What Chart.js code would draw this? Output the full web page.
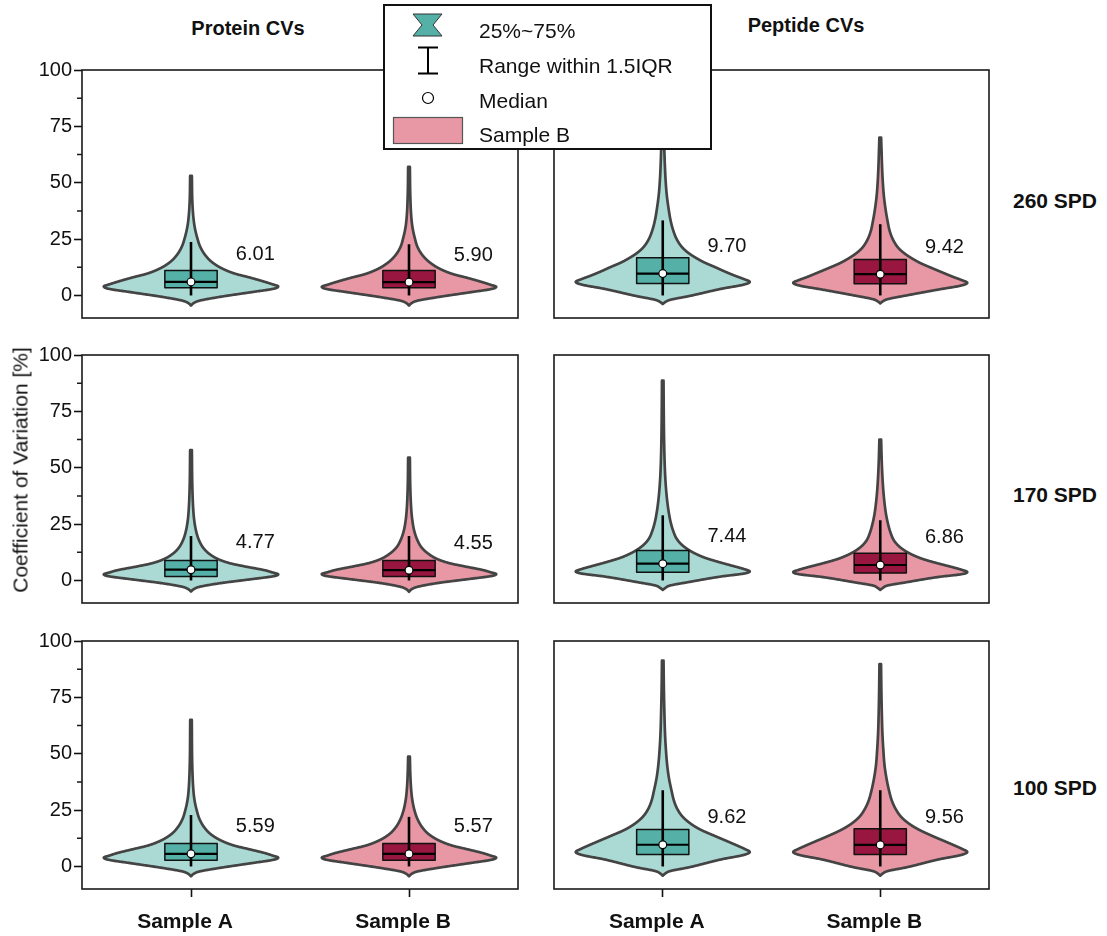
<!DOCTYPE html>
<html>
<head>
<meta charset="utf-8">
<title>Coefficient of Variation – Protein and Peptide CVs</title>
<script src="https://cdn.jsdelivr.net/npm/chart.js@4.4.1/dist/chart.umd.min.js"></script>
<style>
  html, body { margin: 0; padding: 0; background: #fff; }
  #page { position: relative; width: 1107px; height: 936px; overflow: hidden;
          font-family: 'Liberation Sans', Arial, Helvetica, sans-serif; color: #111; }
  canvas.panel { position: absolute; z-index: 1; }
  .txt { position: absolute; white-space: nowrap; line-height: 1; z-index: 6; }
  .bold { font-weight: bold; }
  .center { transform: translate(-50%, -50%); }
  .left { transform: translateY(-50%); }
  #legend { position: absolute; left: 383px; top: 4px; width: 329px; height: 146px;
            box-sizing: border-box; border: 2px solid #111; background: #fff; z-index: 4; }
  #legendIcons { position: absolute; left: 383px; top: 4px; z-index: 5; }
</style>
</head>
<body>
<div id="page"></div>
<script>
// ---- values -------------------------------------------------------------
const categories = ['Sample A', 'Sample B'];
const columnTitles = ['Protein CVs', 'Peptide CVs'];
const rowLabels = ['260 SPD', '170 SPD', '100 SPD'];
const yTicks = [0, 25, 50, 75, 100];
const yMinorTicks = [12.5, 37.5, 62.5, 87.5];
const legendLabels = ['25%~75%', 'Range within 1.5IQR', 'Median', 'Sample B'];
const yAxisTitle = 'Coefficient of Variation [%]';

// rows: 260 SPD, 170 SPD, 100 SPD; each pair is [Sample A, Sample B]
const proteinMedian = [[6.01, 5.90], [4.77, 4.55], [5.59, 5.57]];
const proteinQ1 = [[3.4, 3.4], [1.8, 1.8], [2.8, 2.8]];
const proteinQ3 = [[11.1, 11.1], [8.9, 8.9], [10.2, 10.2]];
const proteinWhiskerLow = [[0, 0], [0, 0], [0, 0]];
const proteinWhiskerHigh = [[23.7, 22.7], [19.7, 19.7], [22.8, 22.0]];

const peptideMedian = [[9.70, 9.42], [7.44, 6.86], [9.62, 9.56]];
const peptideQ1 = [[5.3, 5.2], [3.6, 3.3], [5.3, 5.3]];
const peptideQ3 = [[16.7, 15.9], [13.3, 12.1], [16.4, 16.7]];
const peptideWhiskerLow = [[0, 0], [0, 0], [0, 0]];
const peptideWhiskerHigh = [[33.3, 31.6], [28.9, 26.7], [33.8, 33.8]];

// violin outlines: [CV %, relative half-width]
const proteinDensity260A = [[-4.5,0],[-3.4,0.03],[-2.4,0.09],[-0.7,0.32],[1.5,0.70],[3.0,0.95],[4.0,1.0],[5.0,0.93],[6.0,0.85],[8.1,0.66],[9.6,0.51],[11.9,0.36],[14.8,0.24],[17.8,0.165],[21.5,0.107],[25.9,0.069],[30.4,0.042],[34.8,0.027],[42,0.015],[53,0.010]];
const proteinDensity260B = [[-4.5,0],[-3.4,0.03],[-2.4,0.09],[-0.8,0.32],[1.4,0.70],[2.9,0.95],[3.8,1.0],[4.8,0.93],[5.8,0.85],[7.9,0.66],[9.4,0.51],[11.7,0.36],[14.6,0.24],[17.6,0.16],[21.3,0.10],[25.7,0.065],[30.2,0.04],[35,0.026],[44,0.015],[57,0.010]];
const proteinDensity170A = [[-4.9,0],[-3.9,0.03],[-2.9,0.09],[-1.3,0.32],[0.6,0.70],[1.9,0.95],[2.7,1.0],[3.6,0.93],[4.5,0.85],[6.2,0.62],[7.5,0.46],[9.3,0.32],[11.8,0.21],[14.5,0.14],[18,0.09],[22,0.058],[27,0.036],[32,0.025],[42,0.015],[57.8,0.010]];
const proteinDensity170B = [[-5.0,0],[-3.9,0.03],[-2.9,0.09],[-1.2,0.32],[0.7,0.70],[2.0,0.95],[2.8,1.0],[3.7,0.93],[4.6,0.85],[6.3,0.63],[7.6,0.47],[9.4,0.33],[11.9,0.22],[14.6,0.145],[18,0.095],[22,0.06],[27,0.037],[32,0.025],[41,0.015],[54.5,0.010]];
const proteinDensity100A = [[-4.4,0],[-3.3,0.03],[-2.3,0.09],[-0.7,0.32],[1.5,0.70],[3.0,0.95],[3.9,1.0],[4.9,0.93],[5.9,0.85],[7.8,0.65],[9.2,0.50],[11.4,0.35],[14.2,0.23],[17.2,0.155],[20.8,0.10],[25,0.065],[29.5,0.04],[34,0.027],[44,0.015],[65,0.009]];
const proteinDensity100B = [[-4.4,0],[-3.3,0.03],[-2.3,0.09],[-0.7,0.32],[1.5,0.70],[3.0,0.95],[3.9,1.0],[4.9,0.93],[5.9,0.85],[7.8,0.65],[9.2,0.50],[11.4,0.35],[14.2,0.23],[17.2,0.155],[20.8,0.10],[25,0.062],[29.5,0.038],[34,0.025],[41,0.015],[48.7,0.010]];

const peptideDensity260A = [[-3.8,0],[-2.9,0.03],[-2.0,0.08],[-0.3,0.30],[3.0,0.68],[4.8,0.93],[6.0,1.0],[7.3,0.93],[8.6,0.84],[10.5,0.72],[12.6,0.60],[14.6,0.48],[16.7,0.38],[19,0.29],[21.5,0.22],[25,0.16],[28.9,0.12],[33.3,0.09],[39,0.065],[45,0.045],[51,0.033],[58,0.024],[66,0.017],[75,0.010]];
const peptideDensity260B = [[-3.5,0],[-2.6,0.03],[-1.7,0.08],[0,0.30],[2.7,0.68],[4.4,0.93],[5.6,1.0],[6.9,0.93],[8.2,0.84],[10.1,0.72],[12.2,0.59],[14.2,0.47],[16.3,0.37],[18.6,0.28],[21,0.21],[24.5,0.15],[28.4,0.11],[32.8,0.085],[38.5,0.06],[44,0.042],[50,0.03],[57,0.021],[64,0.015],[70,0.010]];
const peptideDensity170A = [[-4.2,0],[-3.3,0.03],[-2.3,0.08],[-0.7,0.30],[1.8,0.68],[3.1,0.94],[4.0,1.0],[5.1,0.93],[6.3,0.82],[8.0,0.66],[10.0,0.49],[11.8,0.38],[13.5,0.30],[15.8,0.22],[18.5,0.16],[22,0.12],[26,0.09],[30,0.07],[35,0.052],[41,0.037],[48,0.026],[56,0.019],[66,0.014],[77,0.011],[88.6,0.009]];
const peptideDensity170B = [[-4.2,0],[-3.3,0.03],[-2.3,0.08],[-0.8,0.30],[1.6,0.68],[2.8,0.94],[3.7,1.0],[4.8,0.93],[6.0,0.82],[7.6,0.66],[9.5,0.49],[11.2,0.38],[12.8,0.30],[15,0.22],[17.6,0.16],[21,0.12],[25,0.09],[29,0.068],[34,0.05],[40,0.035],[46,0.025],[53,0.017],[62.5,0.010]];
const peptideDensity100A = [[-4.1,0],[-3.1,0.03],[-2.1,0.08],[-0.4,0.30],[3.2,0.68],[5.1,0.93],[6.4,1.0],[7.8,0.94],[9.2,0.86],[11.2,0.74],[13.5,0.60],[16.4,0.43],[19,0.32],[22,0.23],[25.3,0.17],[29,0.13],[33.8,0.10],[39,0.072],[44.6,0.052],[52,0.036],[59,0.026],[68,0.019],[79,0.013],[91.3,0.009]];
const peptideDensity100B = [[-4.1,0],[-3.1,0.03],[-2.1,0.08],[-0.4,0.30],[3.2,0.68],[5.1,0.93],[6.4,1.0],[7.8,0.94],[9.2,0.86],[11.2,0.74],[13.5,0.60],[16.4,0.44],[19,0.33],[22,0.24],[25.3,0.18],[29,0.135],[33.8,0.10],[39,0.072],[44.6,0.05],[52,0.035],[59,0.025],[68,0.018],[78,0.013],[89.8,0.009]];

// ---- layout and style ---------------------------------------------------
const FONT = "'Liberation Sans', Arial, Helvetica, sans-serif";
const COLS = [{ left: 82, width: 436 }, { left: 554, width: 435 }];
const ROWS = [70, 355, 641];
const PANEL_H = 248;
const Y_MIN = -10, Y_MAX = 100;
const VIOLIN_HALF = 0.40;   // category units
const BOX_HALF = 0.12;
const LABEL_DX = 0.295;     // label offset right of the violin centre (category units)
const LABEL_DY = 12;        // label sits this many CV points above the median
const SAMPLE_STYLE = [
  { fill: '#abd9d4', box: '#55b1a8' },
  { fill: '#e898a5', box: '#98163f' }
];
const OUTLINE = '#444444';

const page = document.getElementById('page');

function addText(text, x, y, cls, size, extra) {
  const d = document.createElement('div');
  d.className = 'txt ' + cls;
  d.textContent = text;
  d.style.left = x + 'px';
  d.style.top = y + 'px';
  d.style.fontSize = size + 'px';
  if (extra) Object.assign(d.style, extra);
  page.appendChild(d);
  return d;
}

// Fritsch–Carlson monotone cubic through the outline points
function monotone(xv, yv) {
  const n = xv.length, d = [], m = new Array(n);
  for (let i = 0; i < n - 1; i++) d.push((yv[i + 1] - yv[i]) / (xv[i + 1] - xv[i]));
  m[0] = d[0]; m[n - 1] = d[n - 2];
  for (let i = 1; i < n - 1; i++) m[i] = (d[i - 1] * d[i] <= 0) ? 0 : (d[i - 1] + d[i]) / 2;
  for (let i = 0; i < n - 1; i++) {
    if (d[i] === 0) { m[i] = 0; m[i + 1] = 0; continue; }
    const a = m[i] / d[i], b = m[i + 1] / d[i], s = a * a + b * b;
    if (s > 9) { const t = 3 / Math.sqrt(s); m[i] = t * a * d[i]; m[i + 1] = t * b * d[i]; }
  }
  return x => {
    let i = 0;
    while (i < n - 2 && x > xv[i + 1]) i++;
    const h = xv[i + 1] - xv[i], t = (x - xv[i]) / h;
    const t2 = t * t, t3 = t2 * t;
    return (2 * t3 - 3 * t2 + 1) * yv[i] + (t3 - 2 * t2 + t) * h * m[i]
         + (-2 * t3 + 3 * t2) * yv[i + 1] + (t3 - t2) * h * m[i + 1];
  };
}

function makeViolinPlugin(items, showMinor) {
  return {
    id: 'violins',
    beforeDatasetsDraw(chart) {
      const { ctx, chartArea: a, scales: { x: xs, y: ys } } = chart;
      ctx.save();
      ctx.beginPath();
      ctx.rect(a.left, a.top, a.right - a.left, a.bottom - a.top);
      ctx.clip();
      items.forEach((it, i) => {
        const cx = xs.getPixelForValue(i);
        const halfMax = xs.getPixelForValue(i + VIOLIN_HALF) - cx;
        const pts = it.density;
        const f = monotone(pts.map(p => p[0]), pts.map(p => p[1]));
        const lo = pts[0][0], hi = pts[pts.length - 1][0];
        const right = [];
        for (let v = lo; v < hi; v += 0.05) right.push([cx + Math.max(0, f(v)) * halfMax, ys.getPixelForValue(v)]);
        right.push([cx + pts[pts.length - 1][1] * halfMax, ys.getPixelForValue(hi)]);
        ctx.beginPath();
        right.forEach((p, k) => k ? ctx.lineTo(p[0], p[1]) : ctx.moveTo(p[0], p[1]));
        for (let k = right.length - 1; k >= 0; k--) ctx.lineTo(2 * cx - right[k][0], right[k][1]);
        ctx.closePath();
        ctx.fillStyle = it.style.fill;
        ctx.fill();
        ctx.lineWidth = 2.7;
        ctx.lineJoin = 'round';
        ctx.strokeStyle = OUTLINE;
        ctx.stroke();

        // interquartile box
        const bx0 = xs.getPixelForValue(i - BOX_HALF), bx1 = xs.getPixelForValue(i + BOX_HALF);
        const yq1 = ys.getPixelForValue(it.q1), yq3 = ys.getPixelForValue(it.q3);
        ctx.fillStyle = it.style.box;
        ctx.fillRect(bx0, yq3, bx1 - bx0, yq1 - yq3);
        ctx.lineWidth = 1.5;
        ctx.strokeStyle = '#111';
        ctx.strokeRect(bx0, yq3, bx1 - bx0, yq1 - yq3);

        // median line across the box
        const ym = ys.getPixelForValue(it.median);
        ctx.lineWidth = 2.2;
        ctx.strokeStyle = '#000';
        ctx.beginPath(); ctx.moveTo(bx0, ym); ctx.lineTo(bx1, ym); ctx.stroke();

        // whisker (1.5 IQR range)
        ctx.lineWidth = 2.6;
        ctx.beginPath();
        ctx.moveTo(cx, ys.getPixelForValue(it.wLo));
        ctx.lineTo(cx, ys.getPixelForValue(it.wHi));
        ctx.stroke();
      });
      ctx.restore();
    },
    afterDatasetsDraw(chart) {
      const { ctx, scales: { x: xs, y: ys } } = chart;
      ctx.save();
      ctx.fillStyle = '#111';
      ctx.font = '20px ' + FONT;
      ctx.textAlign = 'center';
      ctx.textBaseline = 'middle';
      items.forEach((it, i) => {
        ctx.fillText(it.median.toFixed(2), xs.getPixelForValue(i + LABEL_DX), ys.getPixelForValue(it.median + LABEL_DY));
      });
      ctx.restore();
    },
    afterDraw(chart) {
      const { ctx, chartArea: a, scales: { y: ys } } = chart;
      ctx.save();
      ctx.strokeStyle = '#1a1a1a';
      ctx.lineWidth = 1.6;
      ctx.strokeRect(a.left, a.top, a.right - a.left, a.bottom - a.top);
      if (showMinor) {
        ctx.lineWidth = 1.5;
        ctx.beginPath();
        yMinorTicks.forEach(v => {
          const y = ys.getPixelForValue(v);
          ctx.moveTo(a.left - 5, y); ctx.lineTo(a.left, y);
        });
        ctx.stroke();
      }
      ctx.restore();
    }
  };
}

const proteinDensity = [[proteinDensity260A, proteinDensity260B], [proteinDensity170A, proteinDensity170B], [proteinDensity100A, proteinDensity100B]];
const peptideDensity = [[peptideDensity260A, peptideDensity260B], [peptideDensity170A, peptideDensity170B], [peptideDensity100A, peptideDensity100B]];
const columns = [
  { median: proteinMedian, q1: proteinQ1, q3: proteinQ3, wLo: proteinWhiskerLow, wHi: proteinWhiskerHigh, density: proteinDensity },
  { median: peptideMedian, q1: peptideQ1, q3: peptideQ3, wLo: peptideWhiskerLow, wHi: peptideWhiskerHigh, density: peptideDensity }
];

ROWS.forEach((rowTop, r) => {
  COLS.forEach((col, c) => {
    const src = columns[c];
    const isLeft = c === 0, isBottom = r === ROWS.length - 1;
    const padL = isLeft ? 82 : 10, padT = 12, padR = 10, padB = isBottom ? 47 : 12;
    const cv = document.createElement('canvas');
    cv.className = 'panel';
    cv.width = padL + col.width + padR;
    cv.height = padT + PANEL_H + padB;
    cv.style.left = (col.left - padL) + 'px';
    cv.style.top = (rowTop - padT) + 'px';
    page.appendChild(cv);

    const items = categories.map((cat, i) => ({
      median: src.median[r][i], q1: src.q1[r][i], q3: src.q3[r][i],
      wLo: src.wLo[r][i], wHi: src.wHi[r][i], density: src.density[r][i],
      style: SAMPLE_STYLE[i]
    }));

    new Chart(cv, {
      type: 'scatter',
      data: {
        datasets: [{
          data: items.map((it, i) => ({ x: i, y: it.median })),
          pointRadius: 3.9, pointHoverRadius: 3.9,
          pointBackgroundColor: '#ffffff', pointBorderColor: '#000000', pointBorderWidth: 1.2,
          showLine: false
        }]
      },
      options: {
        responsive: false, animation: false, events: [], devicePixelRatio: 1,
        layout: { autoPadding: false, padding: { left: 0, top: padT, right: padR, bottom: 0 } },
        scales: {
          x: {
            type: 'linear', min: -0.5, max: 1.5, display: true,
            afterBuildTicks: s => { s.ticks = categories.map((cat, i) => ({ value: i })); },
            afterFit: s => { s.height = padB; s.paddingLeft = 0; s.paddingRight = 0; },
            ticks: { display: isBottom, callback: v => categories[v], autoSkip: false, maxRotation: 0,
                     padding: 13, labelOffset: -6,
                     color: '#111', font: { family: FONT, size: 21, weight: 'bold' } },
            grid: { display: isBottom, drawOnChartArea: false, tickLength: 8, tickColor: '#111', tickWidth: 1.6 },
            border: { display: false }
          },
          y: {
            type: 'linear', min: Y_MIN, max: Y_MAX, display: true,
            afterBuildTicks: s => { s.ticks = yTicks.map(v => ({ value: v })); },
            afterFit: s => { s.width = padL; s.paddingTop = 0; s.paddingBottom = 0; },
            ticks: { display: isLeft, padding: 2, color: '#111', font: { family: FONT, size: 20 } },
            grid: { display: isLeft, drawOnChartArea: false, tickLength: 8, tickColor: '#111', tickWidth: 1.6 },
            border: { display: false }
          }
        },
        plugins: { legend: { display: false }, tooltip: { enabled: false } }
      },
      plugins: [makeViolinPlugin(items, isLeft)]
    });
  });
});

// titles and side labels
addText(columnTitles[0], 248, 28, 'bold center', 20);
addText(columnTitles[1], 806, 25, 'bold center', 20);
[200, 494, 787].forEach((y, r) => addText(rowLabels[r], 1055, y, 'bold center', 21));
addText(yAxisTitle, 20, 470, '', 21, { transform: 'translate(-50%, -50%) rotate(-90deg)' });

// legend
const legend = document.createElement('div');
legend.id = 'legend';
page.appendChild(legend);
const lc = document.createElement('canvas');
lc.id = 'legendIcons';
lc.width = 329; lc.height = 146;
page.appendChild(lc);
(function drawLegendIcons() {
  const g = lc.getContext('2d');
  g.translate(-383, -4);
  // interquartile box icon
  g.beginPath();
  g.moveTo(413, 14); g.lineTo(442, 14); g.lineTo(433, 25); g.lineTo(442, 36);
  g.lineTo(413, 36); g.lineTo(422, 25); g.closePath();
  g.fillStyle = SAMPLE_STYLE[0].box; g.fill();
  g.lineWidth = 1; g.strokeStyle = '#333'; g.stroke();
  // whisker icon
  g.lineWidth = 2; g.strokeStyle = '#000';
  g.beginPath();
  g.moveTo(418, 47.5); g.lineTo(438, 47.5);
  g.moveTo(418, 73.5); g.lineTo(438, 73.5);
  g.moveTo(428, 47.5); g.lineTo(428, 73.5);
  g.stroke();
  // median icon
  g.beginPath(); g.arc(428, 98, 5.5, 0, Math.PI * 2);
  g.fillStyle = '#fff'; g.fill(); g.lineWidth = 1.2; g.strokeStyle = '#000'; g.stroke();
  // sample B swatch
  g.fillStyle = SAMPLE_STYLE[1].fill;
  g.fillRect(393.5, 117.5, 69, 26);
  g.lineWidth = 1.2; g.strokeStyle = '#555';
  g.strokeRect(393.5, 117.5, 69, 26);
})();
[30, 65, 100, 134].forEach((y, i) => addText(legendLabels[i], 479, y, 'left', 21));
</script>
</body>
</html>
